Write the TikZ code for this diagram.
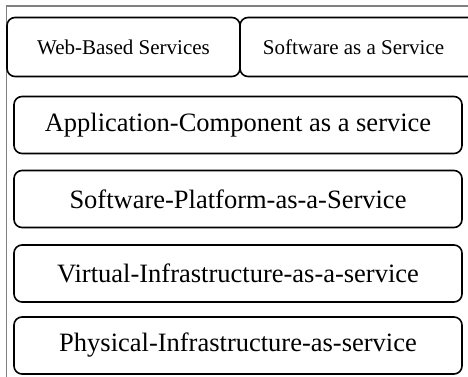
\documentclass[tikz,border=0pt]{standalone}
\usepackage{fontspec}
\setmainfont{Liberation Serif}
\begin{document}
\begin{tikzpicture}[x=1pt,y=-1pt,
  layerbox/.style={draw=black, line width=1.6pt, rounded corners=8pt, inner sep=0pt,
    minimum width=448pt, minimum height=57pt, font=\fontsize{26.5}{30}\selectfont},
  topbox/.style={draw=black, line width=1.6pt, rounded corners=8pt, inner sep=0pt,
    minimum height=59pt, font=\fontsize{21}{25}\selectfont}]
\useasboundingbox (0,0) rectangle (468,376);
% outer frame
\draw[draw={rgb,255:red,128;green,128;blue,128}, line width=1.3pt] (472,6) -- (6.5,6) -- (6.5,380);
% top row
\node[topbox, minimum width=233pt] (web) at (123.5,47) {Web-Based Services};
\node[topbox, minimum width=236pt] (saas) at (358,47) {Software as a Service\hspace*{9pt}};
% service layers
\node[layerbox] (app)  at (238,125)   {Application-Component as a service};
\node[layerbox] (spaas) at (238,199)  {Software-Platform-as-a-Service};
\node[layerbox] (viaas) at (238,273.5) {Virtual-Infrastructure-as-a-service};
\node[layerbox] (piaas) at (238,345.5) {Physical-Infrastructure-as-service};
\end{tikzpicture}
\end{document}
